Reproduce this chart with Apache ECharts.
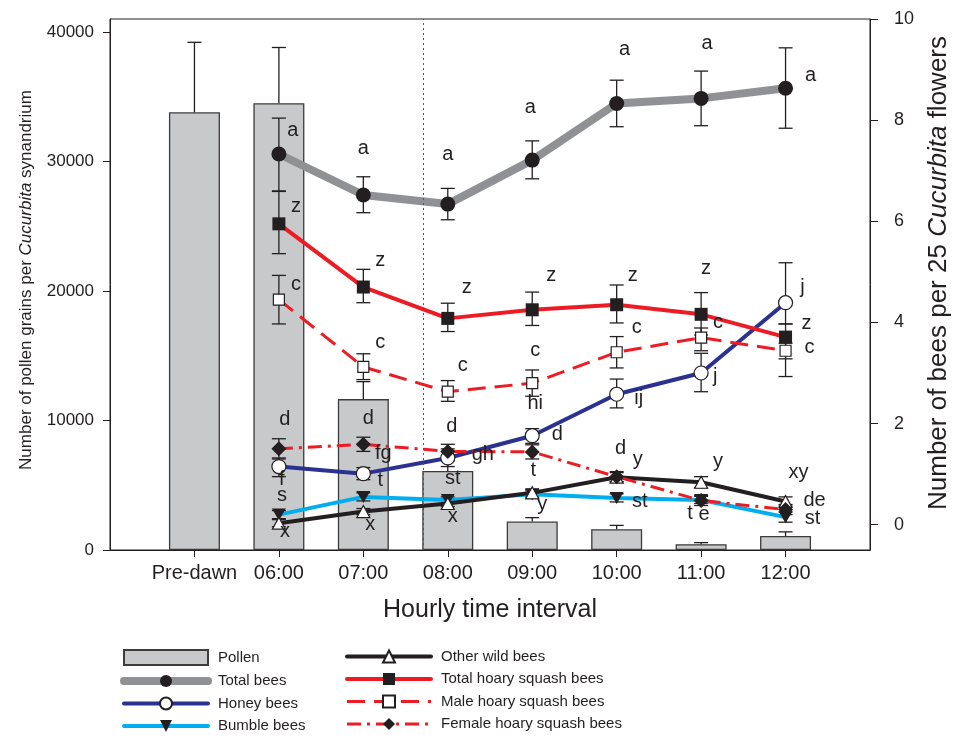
<!DOCTYPE html>
<html><head><meta charset="utf-8">
<script src="https://cdn.jsdelivr.net/npm/echarts@6/dist/echarts.min.js"></script>
<style>html,body{margin:0;padding:0;background:#fff}#c{width:957px;height:737px}</style>
</head><body><div id="c"></div>
<script>
// ---------- DATA ----------
const categories = ['Pre-dawn','06:00','07:00','08:00','09:00','10:00','11:00','12:00'];
const catPos = [1,2,3,4,5,6,7,8];           // position of each category on the x scale
const pollen = [33800, 34500, 11650, 6100, 2200, 1600, 450, 1080];
const pollenErrTop = [39200, 38800, 13000, 6900, 2500, 1900, 570, 1400];

// bee series (06:00 .. 12:00)
const totalBees   = [7.33, 6.52, 6.34, 7.21, 8.33, 8.43, 8.63];
const totalBeesLo = [6.60, 6.17, 6.03, 6.84, 7.87, 7.89, 7.84];
const totalBeesHi = [8.04, 6.88, 6.65, 7.59, 8.79, 8.97, 9.43];

const honeyBees   = [1.15, 1.01, 1.32, 1.76, 2.58, 3.00, 4.39];
const honeyBeesLo = [0.95, 0.89, 1.15, 1.61, 2.31, 2.63, 3.97];
const honeyBeesHi = [1.32, 1.13, 1.50, 1.90, 2.88, 3.39, 5.18];

const bumbleBees   = [0.20, 0.55, 0.49, 0.60, 0.53, 0.49, 0.15];
const bumbleBeesLo = [0.12, 0.47, 0.43, 0.53, 0.45, 0.42, 0.05];
const bumbleBeesHi = [0.28, 0.63, 0.55, 0.67, 0.61, 0.56, 0.25];

const otherBees   = [0.03, 0.26, 0.42, 0.63, 0.94, 0.84, 0.46];
const otherBeesLo = [-0.04, 0.20, 0.36, 0.56, 0.85, 0.73, 0.37];
const otherBeesHi = [0.10, 0.32, 0.48, 0.70, 1.03, 0.95, 0.55];

const totalHoary   = [5.95, 4.70, 4.08, 4.25, 4.35, 4.16, 3.71];
const totalHoaryLo = [5.36, 4.39, 3.82, 3.94, 3.99, 3.75, 3.28];
const totalHoaryHi = [6.59, 5.05, 4.38, 4.60, 4.74, 4.59, 3.97];

const maleHoary   = [4.45, 3.12, 2.63, 2.80, 3.41, 3.70, 3.44];
const maleHoaryLo = [3.97, 2.87, 2.44, 2.54, 3.10, 3.44, 2.93];
const maleHoaryHi = [4.93, 3.38, 2.85, 3.06, 3.72, 3.89, 3.59];

const femaleHoary   = [1.50, 1.59, 1.45, 1.44, 0.95, 0.48, 0.30];
const femaleHoaryLo = [1.30, 1.45, 1.32, 1.30, 0.85, 0.38, 0.20];
const femaleHoaryHi = [1.70, 1.73, 1.59, 1.58, 1.05, 0.58, 0.40];

// significance letters
const totalBeesLetters  = ['a','a','a','a','a','a','a'];
const totalHoaryLetters = ['z','z','z','z','z','z','z'];
const maleLetters       = ['c','c','c','c','c','c','c'];
const honeyLetters      = ['f','fg','gh','hi','ij','j','j'];
const femaleLetters     = ['d','d','d','d','d','e','de'];
const bumbleLetters     = ['s','t','st','t','st','t','st'];
const otherLetters      = ['x','x','x','y','y','y','xy'];

const leftTicks  = [0, 10000, 20000, 30000, 40000];
const rightTicks = [0, 2, 4, 6, 8, 10];
const sunrise = 3.71;

// ---------- LAYOUT / STYLE ----------
const FONT = "'Liberation Sans', Arial, Helvetica, sans-serif";
const INK = '#231f20';
const GRAY = '#8f9194', NAVY = '#2b3190', SKY = '#00aeef', RED = '#ed1c24';
const beePos = catPos.slice(1);
const letterNudge = {
  total:  [[14,-24],[0,-47],[0,-50],[-2,-53],[8,-54],[6,-55],[25,-13]],
  hoary:  [[17,-17],[17,-27],[19,-31],[19,-34],[16,-29],[5,-46],[21,-14]],
  male:   [[17,-15],[17,-24],[15,-26],[3,-33],[20,-25],[17,-15],[24,-3]],
  honey:  [[3,13],[20,-20],[35,-3],[3,-32],[22,4],[14,3],[17,-15]],
  female: [[6,-29],[5,-26],[4,-25],[25,-17],[4,-28],[3,14],[29,-9]],
  bumble: [[3,-19],[17,-16],[5,-21],[1,-24],[23,4],[-11,14],[27,1]],
  other:  [[6,8],[7,13],[5,13],[10,12],[21,-18],[17,-21],[13,-29]]
};

function pairs(xs, ys){ return xs.map((x,i)=>[x, ys[i]]); }
function errData(lo, hi){ return beePos.map((x,i)=>[x, lo[i], hi[i]]); }

function errRender(capLow){
  return function(params, api){
    const x = api.value(0), lo = api.value(1), hi = api.value(2);
    const p1 = api.coord([x, hi]), p2 = api.coord([x, lo]);
    const w = 7, st = {stroke: INK, lineWidth: 1.3};
    const ch = [
      {type:'line', shape:{x1:p1[0], y1:p1[1], x2:p2[0], y2:p2[1]}, style:st},
      {type:'line', shape:{x1:p1[0]-w, y1:p1[1], x2:p1[0]+w, y2:p1[1]}, style:st}
    ];
    if (capLow) ch.push({type:'line', shape:{x1:p2[0]-w, y1:p2[1], x2:p2[0]+w, y2:p2[1]}, style:st});
    return {type:'group', children: ch};
  };
}

const letterItems = [];
function addLetters(vals, letters, key){
  vals.forEach((v,i)=> letterItems.push([beePos[i], v, letters[i], letterNudge[key][i][0], letterNudge[key][i][1]]));
}
addLetters(totalBees, totalBeesLetters, 'total');
addLetters(totalHoary, totalHoaryLetters, 'hoary');
addLetters(maleHoary, maleLetters, 'male');
addLetters(honeyBees, honeyLetters, 'honey');
addLetters(femaleHoary, femaleLetters, 'female');
addLetters(bumbleBees, bumbleLetters, 'bumble');
addLetters(otherBees, otherLetters, 'other');

const chart = echarts.init(document.getElementById('c'));

function lineSeries(name, vals, color, width, type, symbol, size, fill, rotate, cap){
  return {
    name, type:'line', xAxisIndex:0, yAxisIndex:1, z:4,
    data: pairs(beePos, vals),
    symbol, symbolSize:size, symbolRotate: rotate || 0,
    lineStyle:{color, width, type, cap: cap || 'butt'},
    itemStyle:{color: fill, borderColor: INK, borderWidth: fill === '#ffffff' ? 1.2 : 0, opacity:1},
    emphasis:{disabled:true}, animation:false
  };
}
function legItem(name, color, width, type, cap){
  return {name, lineStyle:{color, width, type, cap: cap || 'butt', opacity:1}};
}

const legendCommon = {orient:'vertical', top:649, padding:0, itemWidth:84, itemHeight:15, itemGap:7.5,
  selectedMode:false, textStyle:{fontSize:15, color:INK, fontFamily:FONT, padding:[0,0,0,5]}};

const option = {
  animation:false,
  textStyle:{fontFamily: FONT, color: INK},
  grid:{left:110, right:87, top:19, bottom:187, show:true, borderColor:INK, borderWidth:1, backgroundColor:'transparent'},
  xAxis:{
    type:'value', min:0, max:9,
    axisLine:{show:true, lineStyle:{color:INK, width:1}},
    axisTick:{show:true, customValues: catPos, length:7, lineStyle:{color:INK}},
    axisLabel:{customValues: catPos, formatter: v => categories[Math.round(v)-1] || '', fontSize:20, color:INK, margin:13, fontFamily:FONT},
    splitLine:{show:false}
  },
  yAxis:[
    {type:'value', min:0, max:41000, position:'left',
     axisLine:{show:true, lineStyle:{color:INK}},
     axisTick:{show:true, customValues:leftTicks, length:7, lineStyle:{color:INK}},
     axisLabel:{customValues:leftTicks, formatter: v => String(v), fontSize:17, color:INK, margin:16, fontFamily:FONT},
     splitLine:{show:false}},
    {type:'value', min:-0.5, max:10, position:'right',
     axisLine:{show:true, lineStyle:{color:INK}},
     axisTick:{show:true, customValues:rightTicks, length:8, lineStyle:{color:INK}},
     axisLabel:{customValues:rightTicks, formatter: v => String(v), fontSize:18, color:INK, margin:24, fontFamily:FONT},
     splitLine:{show:false}}
  ],
  legend:[
    Object.assign({}, legendCommon, {left:120, data:[
      {name:'Pollen', icon:'rect'},
      legItem('Total bees', GRAY, 8, 'solid', 'round'),
      legItem('Honey bees', NAVY, 4, 'solid', 'round'),
      legItem('Bumble bees', SKY, 4, 'solid', 'round')
    ]}),
    Object.assign({}, legendCommon, {left:345, data:[
      legItem('Other wild bees', INK, 4, 'solid', 'round'),
      legItem('Total hoary squash bees', RED, 4, 'solid', 'round'),
      legItem('Male hoary squash bees', RED, 3, [18,9]),
      legItem('Female hoary squash bees', RED, 3, [14,6,3,6])
    ]})
  ],
  graphic:[
    {type:'text', x:26, y:280, rotation:Math.PI/2, z:10,
     style:{text:'Number of pollen grains per {i|Cucurbita} synandrium', fontSize:17, fontFamily:FONT, fill:INK, align:'center', verticalAlign:'middle',
       rich:{i:{fontStyle:'italic', fontSize:17, fontFamily:FONT, fill:INK}}}},
    {type:'text', x:939, y:273, rotation:Math.PI/2, z:10,
     style:{text:'Number of bees per 25 {i|Cucurbita} flowers', fontSize:26, fontFamily:FONT, fill:INK, align:'center', verticalAlign:'middle',
       rich:{i:{fontStyle:'italic', fontSize:26, fontFamily:FONT, fill:INK}}}},
    {type:'text', x:490, y:610, z:10,
     style:{text:'Hourly time interval', fontSize:25, fontFamily:FONT, fill:INK, align:'center', verticalAlign:'middle'}}
  ],
  series:[
    {name:'Pollen', type:'bar', xAxisIndex:0, yAxisIndex:0, z:2, barWidth:51,
     data: pairs(catPos, pollen),
     itemStyle:{color:'#c8c9cb', borderColor:'#3c3c3c', borderWidth:1.3},
     emphasis:{disabled:true},
     markLine:{silent:true, symbol:'none', label:{show:false},
       lineStyle:{type:[2,3], color:'#555', width:1}, data:[{xAxis: sunrise}], animation:false}},
    {type:'custom', xAxisIndex:0, yAxisIndex:0, z:3, renderItem: errRender(false),
     data: catPos.map((x,i)=>[x, pollen[i], pollenErrTop[i]]), encode:{x:0, y:[1,2]}, silent:true},
    {type:'custom', xAxisIndex:0, yAxisIndex:1, z:3, renderItem: errRender(true), data: errData(totalBeesLo,totalBeesHi), encode:{x:0,y:[1,2]}, silent:true},
    {type:'custom', xAxisIndex:0, yAxisIndex:1, z:3, renderItem: errRender(true), data: errData(honeyBeesLo,honeyBeesHi), encode:{x:0,y:[1,2]}, silent:true},
    {type:'custom', xAxisIndex:0, yAxisIndex:1, z:3, renderItem: errRender(true), data: errData(bumbleBeesLo,bumbleBeesHi), encode:{x:0,y:[1,2]}, silent:true},
    {type:'custom', xAxisIndex:0, yAxisIndex:1, z:3, renderItem: errRender(true), data: errData(otherBeesLo,otherBeesHi), encode:{x:0,y:[1,2]}, silent:true},
    {type:'custom', xAxisIndex:0, yAxisIndex:1, z:3, renderItem: errRender(true), data: errData(totalHoaryLo,totalHoaryHi), encode:{x:0,y:[1,2]}, silent:true},
    {type:'custom', xAxisIndex:0, yAxisIndex:1, z:3, renderItem: errRender(true), data: errData(maleHoaryLo,maleHoaryHi), encode:{x:0,y:[1,2]}, silent:true},
    {type:'custom', xAxisIndex:0, yAxisIndex:1, z:3, renderItem: errRender(true), data: errData(femaleHoaryLo,femaleHoaryHi), encode:{x:0,y:[1,2]}, silent:true},
    lineSeries('Total bees', totalBees, GRAY, 8, 'solid', 'circle', 15, INK, 0, 'round'),
    lineSeries('Honey bees', honeyBees, NAVY, 4, 'solid', 'circle', 14, '#ffffff'),
    lineSeries('Bumble bees', bumbleBees, SKY, 4, 'solid', 'triangle', [14,12], INK, 180),
    lineSeries('Other wild bees', otherBees, INK, 4, 'solid', 'triangle', [13,12], '#ffffff'),
    lineSeries('Total hoary squash bees', totalHoary, RED, 4, 'solid', 'rect', 13, INK),
    lineSeries('Male hoary squash bees', maleHoary, RED, 3, [18,9], 'rect', 11, '#ffffff'),
    lineSeries('Female hoary squash bees', femaleHoary, RED, 3, [14,6,3,6], 'diamond', [15,15], INK),
    {type:'custom', xAxisIndex:0, yAxisIndex:1, z:6, silent:true, data: letterItems, encode:{x:0, y:1},
     renderItem: function(params, api){
       const it = letterItems[params.dataIndex];
       const p = api.coord([it[0], it[1]]);
       return {type:'text', x: p[0] + it[3], y: p[1] + it[4],
         style:{text: it[2], fontSize:20, fontFamily:FONT, fill:INK, align:'center', verticalAlign:'middle'}};
     }}
  ]
};
chart.setOption(option);
</script></body></html>
